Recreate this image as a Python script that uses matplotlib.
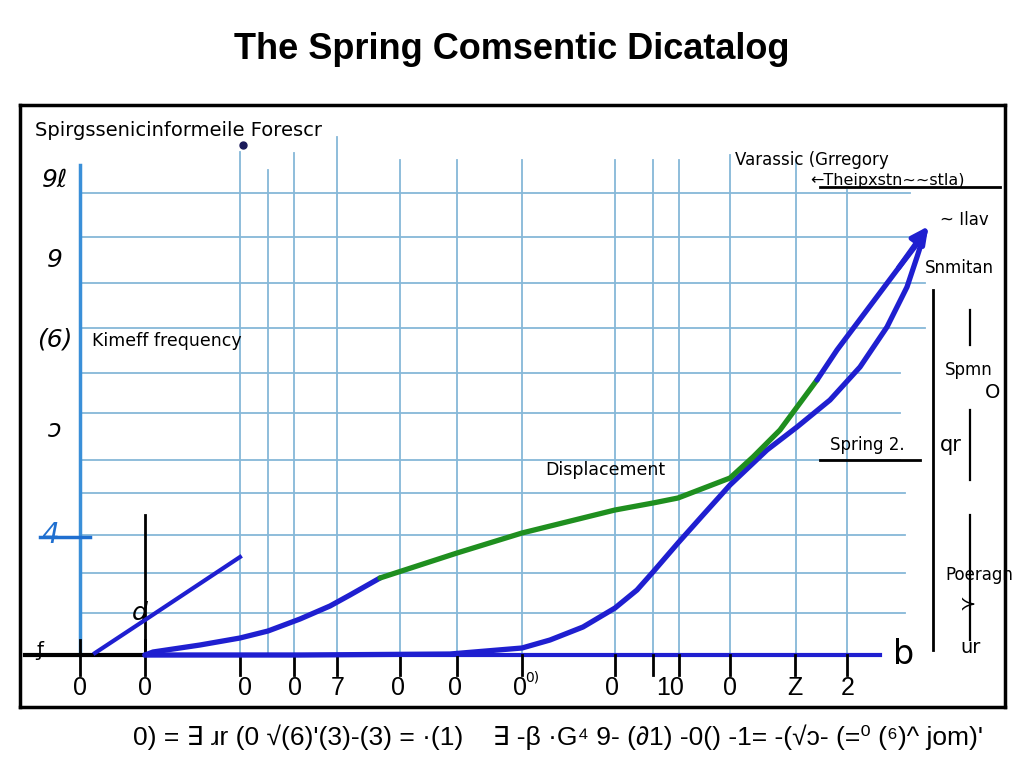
"""Spring chart sketch."""

import numpy as np
import matplotlib
matplotlib.use("Agg")
import matplotlib.pyplot as plt

# grid lines (data units)
grid_y = [9.24, 8.36, 7.44, 6.54, 5.64, 4.84, 3.9, 3.24, 2.4, 1.64, 0.84]
grid_y_end = [16.6, 16.6, 16.9, 16.9, 16.4, 16.4, 16.4, 16.5, 16.5, 16.5, 16.5]
grid_x = [3.2, 3.76, 4.28, 5.14, 6.4, 7.54, 8.84, 10.7, 11.46, 11.98, 13.0, 14.32, 15.34]
grid_x_top = [10.06, 9.7, 10.04, 10.36, 9.9, 9.9, 9.9, 9.9, 9.9, 9.9, 10.0, 9.9, 9.3]

# short blue line
short_x = [0.3, 1.3, 3.2]
short_y = [0.04, 0.7, 1.96]

# upper spring curve: blue part, green part, blue part
upper_blue1_x = [1.3, 1.46, 2.4, 3.2, 3.76, 4.4, 5.0, 5.4, 6.0]
upper_blue1_y = [0.0, 0.06, 0.2, 0.34, 0.48, 0.72, 0.98, 1.2, 1.54]
upper_green_x = [6.0, 7.54, 8.84, 10.7, 11.46, 11.96, 13.0, 13.46, 14.0, 14.4, 14.74]
upper_green_y = [1.54, 2.04, 2.44, 2.9, 3.04, 3.14, 3.54, 3.96, 4.5, 5.04, 5.5]
upper_blue2_x = [14.74, 15.14, 15.74, 16.34, 16.8]
upper_blue2_y = [5.5, 6.1, 6.9, 7.7, 8.3]

# lower spring curve
lower_x = [1.3, 4.4, 7.4, 8.84, 9.4, 10.06, 10.7, 11.14, 11.46, 11.96, 12.46, 13.0,
           13.74, 14.34, 15.0, 15.6, 16.14, 16.54, 16.74, 16.9]
lower_y = [0.0, 0.0, 0.02, 0.14, 0.3, 0.56, 0.94, 1.3, 1.66, 2.24, 2.8, 3.4,
           4.1, 4.56, 5.1, 5.76, 6.56, 7.36, 7.96, 8.46]

# x tick labels
tick_x = [0.0, 1.3, 3.3, 4.3, 5.16, 6.36, 7.5, 8.8, 10.64, 11.8, 13.0, 14.3, 15.36]
tick_labels = ["0", "0", "0", "0", "7", "0", "0", "0", "0", "10", "0", "Z", "2"]
tick_marks = [0.0, 1.3, 3.2, 4.28, 5.14, 6.4, 7.54, 8.84, 10.7, 11.46, 11.98, 13.0, 14.3, 15.34]

# left side labels
left_labels = ["9ℓ", "9", "(6)", "ɔ"]
left_y = [9.5, 7.9, 6.3, 4.5]

BLUE = "#1f1fd0"
GREEN = "#1f8f1f"
GRID = "#86b8d8"

fig = plt.figure(figsize=(10.24, 7.68), dpi=100)
fig.patch.set_facecolor("white")

ax = fig.add_axes([20 / 1024, 61 / 768, 985 / 1024, 602 / 768])
ax.set_xlim(-1.2, 18.5)
ax.set_ylim(-1.04, 11.0)
ax.set_xticks([])
ax.set_yticks([])
for sp in ax.spines.values():
    sp.set_linewidth(2.5)
    sp.set_color("black")

# grid
for gy, ge in zip(grid_y, grid_y_end):
    ax.plot([0, ge], [gy, gy], color=GRID, lw=1.3, zorder=1)
for gx, gt in zip(grid_x, grid_x_top):
    ax.plot([gx, gx], [0, gt], color=GRID, lw=1.3, zorder=1)

# axes lines
ax.plot([0, 0], [0, 9.8], color="#3a8fd8", lw=2.5, zorder=2)
ax.plot([-0.8, 0.2], [2.36, 2.36], color="#1f6fd0", lw=2.5, zorder=2)
ax.plot([-1.1, 1.3], [0, 0], color="black", lw=3, zorder=3)
ax.plot([1.3, 16.0], [0, 0], color=BLUE, lw=3, zorder=3)
for tm in tick_marks:
    ax.plot([tm, tm], [0.3 if tm in (0.0, 1.3) else 0, -0.4], color="black", lw=2, zorder=4)
ax.plot([1.3, 1.3], [0, 2.8], color="black", lw=2, zorder=4)

# curves
kw = dict(lw=3.8, solid_capstyle="round", solid_joinstyle="round")
ax.plot(short_x, short_y, color=BLUE, lw=3, zorder=5)
ax.plot(lower_x, lower_y, color=BLUE, zorder=5, **kw)
ax.plot(upper_blue1_x, upper_blue1_y, color=BLUE, zorder=6, **kw)
ax.plot(upper_green_x, upper_green_y, color=GREEN, zorder=6, **kw)
ax.plot(upper_blue2_x, upper_blue2_y, color=BLUE, zorder=6, **kw)
ax.annotate("", xy=(upper_blue2_x[-1] + 0.2, upper_blue2_y[-1] + 0.32),
            xytext=(upper_blue2_x[-2], upper_blue2_y[-2]),
            arrowprops=dict(arrowstyle="-|>,head_width=0.5,head_length=1.0",
                            color=BLUE, lw=3.8), zorder=7)

# tick labels
for tx, tl in zip(tick_x, tick_labels):
    ax.text(tx, -0.66, tl, ha="center", va="center", fontsize=18,
            family=["Liberation Sans", "DejaVu Sans"])
ax.text(9.05, -0.45, "0)", fontsize=10, ha="center", va="center")

# left labels
for ly, ll in zip(left_y, left_labels):
    ax.text(-0.5, ly, ll, ha="center", va="center", fontsize=18, fontstyle="italic")
ax.text(-0.6, 2.4, "4", ha="center", va="center", fontsize=20, color="#1f6fd0",
        fontstyle="italic")
ax.text(-0.8, 0.1, "ƒ", ha="center", va="center", fontsize=14)
ax.text(1.2, 0.85, "d", ha="center", va="center", fontsize=18, fontstyle="italic")
ax.plot([3.26], [10.2], marker="o", ms=5, color="#1a1a5a")

# annotations
ax.text(-0.9, 10.5, "Spirgssenicinformeile Forescr", fontsize=14, va="center")
ax.text(0.25, 6.28, "Kimeff frequency", fontsize=12.5, va="center")
ax.text(9.3, 3.7, "Displacement", fontsize=12.5, va="center")
ax.text(13.1, 9.9, "Varassic (Grregory", fontsize=12, va="center")
ax.text(14.6, 9.5, "←Theipxstn~~stla)", fontsize=11.5, va="center")
ax.plot([14.8, 18.4], [9.36, 9.36], color="black", lw=2)
ax.text(17.2, 8.7, "~ Ilav", fontsize=12, va="center")
ax.text(16.9, 7.74, "Snmitan", fontsize=12, va="center")
ax.text(17.3, 5.7, "Spmn", fontsize=12, va="center")
ax.text(18.1, 5.25, "O", fontsize=14, va="center")
ax.text(15.0, 4.2, "Spring 2.", fontsize=12, va="center")
ax.plot([14.8, 16.8], [3.9, 3.9], color="black", lw=2)
ax.text(17.2, 4.2, "qr", fontsize=15, va="center")
ax.text(17.3, 1.6, "Poeragn", fontsize=12, va="center")
ax.text(17.6, 1.0, "≻", fontsize=14, va="center")
ax.text(17.6, 0.15, "ur", fontsize=14, va="center")
ax.text(16.25, 0.0, "b", fontsize=24, va="center")

# right side bars
ax.plot([17.06, 17.06], [0.1, 7.3], color="black", lw=2)
ax.plot([17.8, 17.8], [6.2, 6.9], color="black", lw=1.6)
ax.plot([17.8, 17.8], [3.5, 4.9], color="black", lw=1.6)
ax.plot([17.8, 17.8], [0.3, 2.8], color="black", lw=1.6)

fig.text(0.5, 0.935, "The Spring Comsentic Dicatalog", ha="center", va="center",
         fontsize=26, fontweight="bold",
         family=["Liberation Sans", "DejaVu Sans"])
fig.text(0.545, 0.04,
         "0) = ∃ ɹr (0 √(6)'(3)-(3) = ·(1)    ∃ -β ·G⁴ 9- (∂1) -0() -1= -(√ɔ- (=⁰ (⁶)^ jom)'",
         ha="center", va="center", fontsize=19, family=["Liberation Sans", "DejaVu Sans"])

fig.savefig("out.png", dpi=100)
